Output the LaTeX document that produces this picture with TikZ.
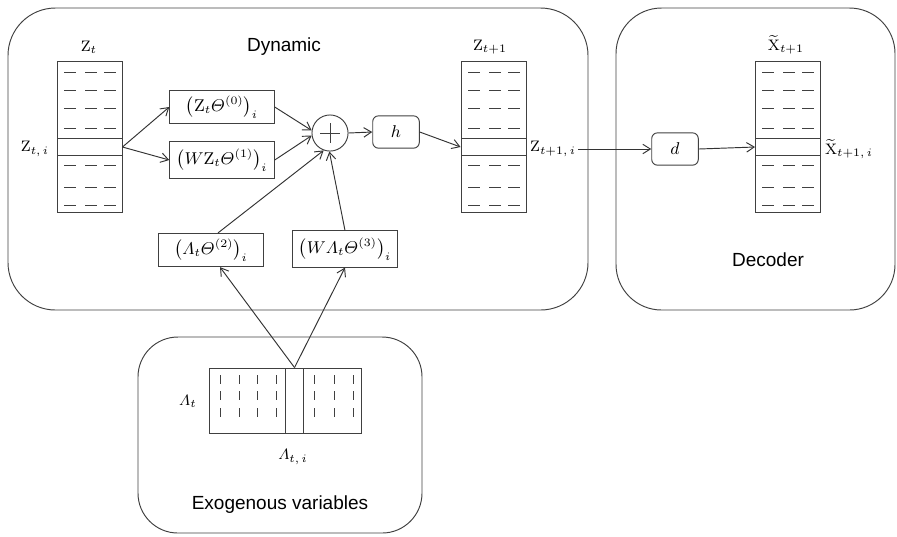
\documentclass[tikz,border=0pt]{standalone}
\usepackage{amsmath}
\usepackage{fontspec}
\newfontfamily\blocksf{Liberation Sans}
\usetikzlibrary{arrows.meta, positioning, calc}
\tikzset{block/.style={draw=black!75, line width=.5pt},
    blocktitle/.style={font=\blocksf\fontsize{10}{12}\selectfont},
    opbox/.style={draw=black!75, line width=.5pt, minimum width=55pt, minimum height=17.5pt, inner sep=1pt, font=\small},
    fnbox/.style={draw=black!75, line width=.5pt, rounded corners=3pt, minimum width=24.5pt, minimum height=17pt, inner sep=1pt, font=\small},
    vec/.style={draw=black!75, line width=.5pt, minimum width=34.2pt, minimum height=79pt, inner sep=0pt},
    vecrow/.style={draw=black!75, line width=.5pt, minimum width=34.2pt, minimum height=9pt, inner sep=0pt},
    lab/.style={font=\footnotesize, inner sep=1pt},
    conn/.style={draw=black!80, line width=.5pt, -{Straight Barb[length=4pt,width=5pt]}},
    tick/.style={draw=black!75, line width=.5pt}}

\begin{document}
\begin{tikzpicture}[x=0.5264pt, y=-0.5264pt]
                 \useasboundingbox (0,0) rectangle (897,536);

                 % containers
                 \draw[block, rounded corners=25pt] (8,8) rectangle (588,310);
                 \draw[block, rounded corners=24pt] (616,8) rectangle (895,310);
                 \draw[block, rounded corners=21pt] (138,337) rectangle (422,533);
                 \node[blocktitle] (dyntitle) at (284,47) {Dynamic};
                 \node[blocktitle] (dectitle) at (768,260) {Decoder};
                 \node[blocktitle] (exotitle) at (280,505) {Exogenous variables};

                 % state vectors
                 \node[vec] (zt) at (89.5,137) {};
                 \node[vecrow] (ztrow) at (89.5,147) {};
                 \node[vec] (zt1) at (493.5,137) {};
                 \node[vecrow] (zt1row) at (493.5,147) {};
                 \node[vec] (xt1) at (788,137) {};
                 \node[vecrow] (xt1row) at (788,147) {};
                 \foreach \x in {57,461,755}
                   \foreach \y in {72,90,108,128,165,187,205}
                     \foreach \dx in {7,28,47}
                       \draw[tick] (\x+\dx,\y) -- ++(12,0);

                 \node[lab] (ztlab) at (89,47) {$\mathrm{Z}_t$};
                 \node[lab] (ztilab) at (35,149) {$\mathrm{Z}_{t,\,i}$};
                 \node[lab] (zt1lab) at (490,47) {$\mathrm{Z}_{t+1}$};
                 \node[lab] (zt1ilab) at (553,149) {$\mathrm{Z}_{t+1,\,i}$};
                 \node[lab] (xt1lab) at (786,45) {$\widetilde{\mathrm{X}}_{t+1}$};
                 \node[lab] (xt1ilab) at (849,149) {$\widetilde{\mathrm{X}}_{t+1,\,i}$};

                 % graph convolution terms
                 \node[opbox] (op0) at (222,107) {$\bigl(\mathrm{Z}_t\varTheta^{(0)}\bigr)_i$};
                 \node[opbox, minimum height=19pt] (op1) at (222,160) {$\bigl(W\mathrm{Z}_t\varTheta^{(1)}\bigr)_i$};
                 \node[opbox] (op2) at (211,250) {$\bigl(\varLambda_t\varTheta^{(2)}\bigr)_i$};
                 \node[opbox, minimum height=19pt] (op3) at (345,249) {$\bigl(W\varLambda_t\varTheta^{(3)}\bigr)_i$};

                 \node[circle, draw=black!75, line width=.5pt, minimum size=19pt, inner sep=0pt] (plus) at (330,133) {};
                 \draw[tick] ($(plus)+(-10,0)$) -- ($(plus)+(10,0)$);
                 \draw[tick] ($(plus)+(0,-10)$) -- ($(plus)+(0,10)$);

                 \node[fnbox] (h) at (396,132) {$h$};
                 \node[fnbox] (d) at (675,149) {$d$};

                 % exogenous matrix
                 \node[draw=black!75, line width=.5pt, minimum width=80pt, minimum height=34.2pt, inner sep=0pt] (lam) at (285,400.5) {};
                 \node[draw=black!75, line width=.5pt, minimum width=9pt, minimum height=34.2pt, inner sep=0pt] (lamcol) at (294.5,400.5) {};
                 \foreach \x in {220,239,257,276,314,334,353}
                   \foreach \y in {375,391,408}
                     \draw[tick] (\x,\y) -- ++(0,9);
                 \node[lab] (lamlab) at (188,401) {$\varLambda_t$};
                 \node[lab] (lamilab) at (293,457) {$\varLambda_{t,\,i}$};

                 % connectors
                 \draw[conn] (ztrow.east) -- (op0.west);
                 \draw[conn] (ztrow.east) -- (op1.west);
                 \draw[conn] (op0.east) -- (plus.172);
                 \draw[conn] (op1.east) -- (plus.188);
                 \draw[conn] ($(op2.north)+(7,0)$) -- (plus.250);
                 \draw[conn] (op3.north) -- (plus.268);
                 \draw[conn] (plus.east) -- (h.west);
                 \draw[conn] (h.east) -- (zt1row.west);
                 \draw[conn] (zt1ilab.east) -- (d.west);
                 \draw[conn] (d.east) -- (xt1row.west);
                 \draw[conn] (lamcol.north) -- ($(op2.south)+(9,0)$);
                 \draw[conn] (lamcol.north) -- (op3.south);
                 \end{tikzpicture}
\end{document}
